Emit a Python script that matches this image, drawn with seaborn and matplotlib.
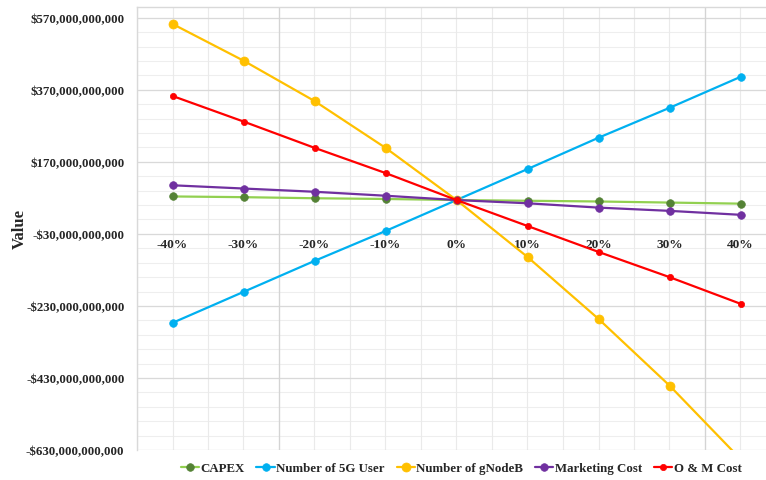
import matplotlib
matplotlib.use("Agg")
import matplotlib.pyplot as plt
import numpy as np
import pandas as pd
import seaborn as sns
from matplotlib.ticker import FuncFormatter, FixedLocator

# Sensitivity of value (in billions of $) to a change in each input
changes = [-0.4, -0.3, -0.2, -0.1, 0.0, 0.1, 0.2, 0.3, 0.4]
change_labels = ["-40%", "-30%", "-20%", "-10%", "0%", "10%", "20%", "30%", "40%"]

capex = [74, 72, 69, 67, 64, 62, 60, 57, 54]
users_5g = [-277, -191, -105, -22, 64, 150, 237, 320, 406]
gnodeb = [553, 451, 339, 209, 64, -94, -266, -451, -655]
marketing = [105, 96, 87, 76, 64, 55, 43, 34, 23]
om_cost = [353, 282, 209, 139, 64, -8, -80, -150, -224]

series_names = ["CAPEX", "Number of 5G User", "Number of gNodeB", "Marketing Cost", "O & M Cost"]
series_values = [capex, users_5g, gnodeb, marketing, om_cost]

y_ticks = [570, 370, 170, -30, -230, -430, -630]

line_colors = ["#92D050", "#00B0F0", "#FFC000", "#7030A0", "#FF0000"]
marker_colors = ["#548235", "#00B0F0", "#FFC000", "#7030A0", "#FF0000"]
marker_sizes = [5.5, 5.5, 6.5, 5.5, 4.5]

sns.set_theme(style="white")
plt.rcParams["font.family"] = ["Liberation Serif", "DejaVu Serif"]
plt.rcParams["font.weight"] = "bold"

fig = plt.figure(figsize=(7.66, 4.81), dpi=100)
ax = fig.add_axes([137 / 766, 1 - 451 / 481, 639 / 766, 443 / 481])

rows = []
for name, vals in zip(series_names, series_values):
    for c, v in zip(changes, vals):
        rows.append({"change": c, "value": v * 1e9, "series": name})
df = pd.DataFrame(rows)

for name, lc, mc, ms in zip(series_names, line_colors, marker_colors, marker_sizes):
    sub = df[df["series"] == name]
    sns.lineplot(data=sub, x="change", y="value", ax=ax, color=lc, lw=1.6,
                 marker="o", markersize=ms, markerfacecolor=mc,
                 markeredgecolor=mc, markeredgewidth=0.5, label=name,
                 zorder=3, sort=False)

ax.set_xlim(-0.45, 0.45)
ax.set_ylim(-630e9, 600e9)

# gridlines: minor every 40B / 0.05, major at the labelled values
for v in np.arange(-630, 601, 40):
    ax.axhline(v * 1e9, color="#EEEEEE", lw=0.8, zorder=0)
for v in y_ticks:
    ax.axhline(v * 1e9, color="#D9D9D9", lw=0.9, zorder=1)
for x in np.arange(-0.45, 0.451, 0.05):
    ax.axvline(x, color="#EAEAEA", lw=0.8, zorder=0)
for x in (-0.25, 0.35):
    ax.axvline(x, color="#D4D4D4", lw=0.9, zorder=1)

ax.yaxis.set_major_locator(FixedLocator([v * 1e9 for v in y_ticks]))


def money(v, pos):
    b = v / 1e9
    s = "${:,.0f}".format(abs(b) * 1e9)
    return ("-" + s) if b < 0 else s


ax.yaxis.set_major_formatter(FuncFormatter(money))
ax.xaxis.set_major_locator(FixedLocator(changes))
ax.set_xticklabels(change_labels)

ax.spines["bottom"].set_position(("data", -30e9))
ax.spines["bottom"].set_visible(False)
ax.spines["right"].set_visible(False)
for s in ("left", "top"):
    ax.spines[s].set_color("#D9D9D9")
    ax.spines[s].set_linewidth(1.0)

ax.tick_params(axis="both", length=0)
ax.tick_params(axis="x", pad=3, labelsize=9.6)
ax.tick_params(axis="y", pad=9, labelsize=9.3)
for lab in ax.get_xticklabels() + ax.get_yticklabels():
    lab.set_fontweight("bold")

ax.set_xlabel("")
ax.set_ylabel("Value", fontsize=12, fontweight="bold")
ax.yaxis.set_label_coords(-0.171, 0.50)

ax.legend_.remove()
handles, labels = ax.get_legend_handles_labels()
fig.legend(handles, labels, loc="center", bbox_to_anchor=(461 / 766, 1 - 469 / 481),
           ncol=5, frameon=False, handlelength=1.4, handletextpad=0.1,
           columnspacing=0.95, prop={"weight": "bold", "size": 9.3})

fig.savefig("out.png", dpi=100)
